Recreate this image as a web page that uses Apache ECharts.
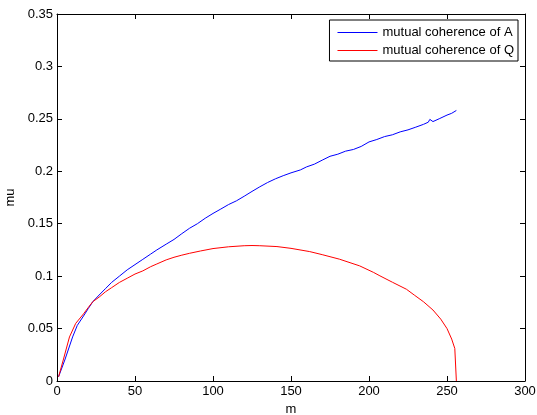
<!DOCTYPE html>
<html>
<head>
<meta charset="utf-8">
<script src="https://cdn.jsdelivr.net/npm/echarts@6/dist/echarts.min.js"></script>
<style>
  html, body { margin: 0; padding: 0; background: #fff; }
  #chart { width: 537px; height: 415px; }
</style>
</head>
<body>
<div id="chart"></div>
<script>
// values
const mA = [1, 5, 10, 13, 17, 20, 23, 27, 31, 35, 40, 45, 50, 55, 60, 64, 70, 75, 80, 85,
  90, 95, 100, 105, 110, 115, 120, 125, 130, 135, 140, 145, 150, 156, 160, 165, 170, 175,
  180, 185, 190, 195, 200, 205, 210, 215, 220, 225, 230, 235, 238, 239, 241, 245, 250, 253, 256]
const muA = [0.004, 0.020, 0.042, 0.053, 0.062, 0.069, 0.0757, 0.082, 0.088, 0.094, 0.100,
  0.106, 0.111, 0.116, 0.121, 0.125, 0.1305, 0.135, 0.1405, 0.1457, 0.150, 0.1552, 0.1598,
  0.164, 0.1683, 0.1718, 0.1762, 0.1808, 0.1852, 0.1893, 0.1928, 0.1958, 0.1985, 0.2013,
  0.2042, 0.2068, 0.2106, 0.2143, 0.2163, 0.2192, 0.2208, 0.2237, 0.228, 0.2303, 0.2331,
  0.2348, 0.2376, 0.2395, 0.2421, 0.2448, 0.2468, 0.2495, 0.2474, 0.2501, 0.2536, 0.2553, 0.258]

const mQ = [1, 4, 8, 12, 17, 20, 23, 27, 31, 35, 40, 45, 50, 55, 60, 64, 70, 75, 80, 85, 92,
  100, 110, 120, 125, 130, 141, 150, 162, 170, 181, 194, 203, 207, 215, 224, 229, 235, 241,
  246, 250, 253, 255, 256]
const muQ = [0.004, 0.020, 0.042, 0.055, 0.064, 0.070, 0.0757, 0.080, 0.085, 0.089, 0.094,
  0.098, 0.102, 0.105, 0.109, 0.1116, 0.1155, 0.118, 0.120, 0.1218, 0.124, 0.1263, 0.128,
  0.129, 0.1292, 0.129, 0.1282, 0.1265, 0.1234, 0.1205, 0.1162, 0.1098, 0.1035, 0.1003, 0.0942,
  0.0875, 0.082, 0.0755, 0.0677, 0.059, 0.050, 0.040, 0.031, 0.0]

const seriesNames = ['mutual coherence of A', 'mutual coherence of Q']
const colors = ['#0000ff', '#ff0000']

const zip = (xs, ys) => xs.map((x, i) => [x, ys[i]])

const chart = echarts.init(document.getElementById('chart'))

const axisText = { color: '#000', fontSize: 13, fontFamily: 'Liberation Sans' }
const blackLine = { show: true, onZero: false, lineStyle: { color: '#000', width: 1 } }
const tickIn = { show: true, inside: true, length: 5, lineStyle: { color: '#000' } }

const option = {
  animation: false,
  backgroundColor: '#fff',
  grid: { left: 57, right: 12, top: 14, bottom: 34, containLabel: false, outerBoundsMode: 'none' },
  legend: {
    data: seriesNames,
    icon: 'rect',
    orient: 'vertical',
    right: 19,
    top: 20,
    itemWidth: 40,
    itemHeight: 1,
    itemGap: 5,
    padding: [6, 4, 4, 8],
    backgroundColor: '#fff',
    borderColor: '#000',
    borderWidth: 1,
    textStyle: { color: '#000', fontSize: 13, fontFamily: 'Liberation Sans' }
  },
  xAxis: [
    {
      type: 'value', min: 0, max: 300, interval: 50,
      name: 'm', nameLocation: 'middle', nameGap: 12,
      nameTextStyle: axisText,
      axisLine: blackLine, axisTick: tickIn,
      axisLabel: { ...axisText, margin: 4 },
      splitLine: { show: false }
    },
    {
      type: 'value', min: 0, max: 300, interval: 50, position: 'top',
      axisLine: blackLine, axisTick: tickIn,
      axisLabel: { show: false }, splitLine: { show: false }
    }
  ],
  yAxis: [
    {
      type: 'value', min: 0, max: 0.35, interval: 0.05,
      name: 'mu', nameLocation: 'middle', nameGap: 32, nameRotate: 90,
      nameTextStyle: axisText,
      axisLine: blackLine, axisTick: tickIn,
      axisLabel: { ...axisText, margin: 4 },
      splitLine: { show: false }
    },
    {
      type: 'value', min: 0, max: 0.35, interval: 0.05, position: 'right',
      axisLine: blackLine, axisTick: tickIn,
      axisLabel: { show: false }, splitLine: { show: false }
    }
  ],
  series: [
    {
      name: seriesNames[0], type: 'line', symbol: 'none',
      data: zip(mA, muA),
      lineStyle: { color: colors[0], width: 1 },
      itemStyle: { color: colors[0] }
    },
    {
      name: seriesNames[1], type: 'line', symbol: 'none',
      data: zip(mQ, muQ),
      lineStyle: { color: colors[1], width: 1 },
      itemStyle: { color: colors[1] }
    }
  ]
}

chart.setOption(option)
</script>
</body>
</html>
